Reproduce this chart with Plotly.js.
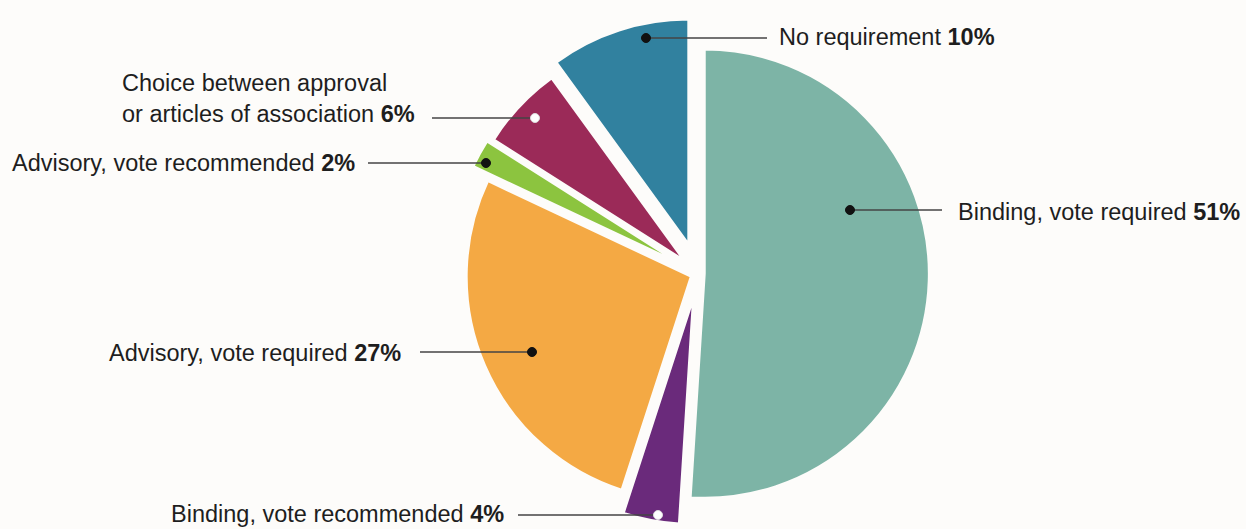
<!DOCTYPE html>
<html><head><meta charset="utf-8">
<script src="https://cdn.plot.ly/plotly-3.0.1.min.js"></script>
<style>html,body{margin:0;padding:0;background:#fdfcfa;overflow:hidden}#chart{width:1246px;height:529px}</style>
</head><body><div id="chart"></div>
<script>
// Data
var categories = ["Binding, vote required", "Binding, vote recommended", "Advisory, vote required",
  "Advisory, vote recommended", "Choice between approval<br>or articles of association", "No requirement"];
var values = [51, 4, 27, 2, 6, 10];
var colors = ["#7db4a6", "#6a2a7b", "#f4a944", "#8cc43f", "#9b2a58", "#31819f"];
var pulls = [0.03, 0.12, 0.035, 0.11, 0.09, 0.14];

// Label layout (pixel positions): text anchor point, line start x, dot position, dot colour
var W = 1246, H = 529, ML = 0, MR = 0, MT = 18, MB = 0;
var pw = W - ML - MR, ph = H - MT - MB;
function px(x) { return (x - ML) / pw; }
function py(y) { return 1 - (y - MT) / ph; }

var labelPos = [
  {tx: 956, ty: 212, anchor: "left",  lx: 942, dx: 850, dy: 210, dot: "#111"},
  {tx: 506, ty: 514, anchor: "right", lx: 518, dx: 658, dy: 515, dot: "#ffffff"},
  {tx: 403, ty: 353, anchor: "right", lx: 420, dx: 532, dy: 352, dot: "#111"},
  {tx: 357, ty: 163, anchor: "right", lx: 368, dx: 486, dy: 163, dot: "#111"},
  {tx: 120, ty: 99,  anchor: "left",  lx: 432, dx: 535, dy: 118, dot: "#ffffff"},
  {tx: 777, ty: 37,  anchor: "left",  lx: 767, dx: 646, dy: 38,  dot: "#111"}
];

var annotations = [], shapes = [];
categories.forEach(function (c, i) {
  var p = labelPos[i];
  annotations.push({
    text: c + " <b>" + values[i] + "%</b>",
    xref: "paper", yref: "paper", x: px(p.tx), y: py(p.ty),
    xanchor: p.anchor, yanchor: "middle", align: "left", showarrow: false,
    font: {family: "Liberation Sans Narrow, Arial Narrow, Liberation Sans, sans-serif", size: 23.5, color: "#1e1e1e"}
  });
  shapes.push({type: "line", xref: "paper", yref: "paper",
    x0: px(p.lx), y0: py(p.dy), x1: px(p.dx), y1: py(p.dy),
    line: {color: "#444", width: 1.3}});
  var r = 4.5;
  shapes.push({type: "circle", xref: "paper", yref: "paper",
    x0: px(p.dx - r), x1: px(p.dx + r), y0: py(p.dy + r), y1: py(p.dy - r),
    fillcolor: p.dot, line: {color: p.dot === "#111" ? "#111" : "#ddd", width: 1}});
});

var trace = {
  type: "pie", values: values, labels: categories,
  marker: {colors: colors, line: {color: "#fdfcfa", width: 2}},
  pull: pulls, sort: false, direction: "clockwise", rotation: 0,
  textinfo: "none", hoverinfo: "none", showlegend: false,
  domain: {x: [0.2, 0.9204], y: [0, 1]}
};

Plotly.newPlot("chart", [trace], {
  width: W, height: H,
  margin: {l: ML, r: MR, t: MT, b: MB},
  paper_bgcolor: "#fdfcfa", plot_bgcolor: "#fdfcfa",
  showlegend: false, annotations: annotations, shapes: shapes
}, {staticPlot: true});
</script></body></html>
